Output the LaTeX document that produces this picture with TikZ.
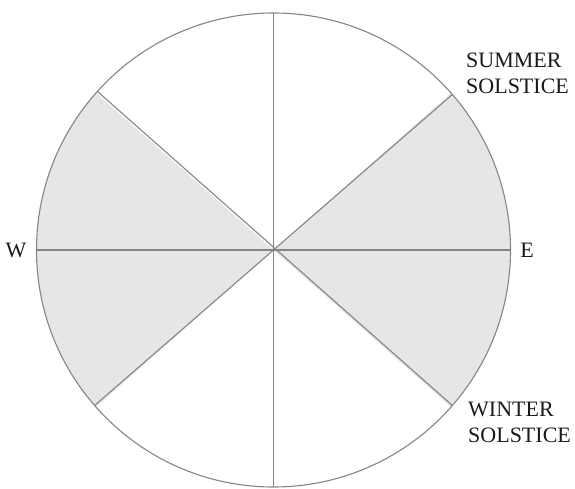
\documentclass[tikz,border=0pt]{standalone}
\usepackage{fontspec}
\setmainfont{Liberation Serif}
\definecolor{linegray}{HTML}{858585}
\definecolor{shade}{HTML}{E6E6E6}
\definecolor{labelcol}{HTML}{1A1A1A}
\begin{document}
\begin{tikzpicture}[x=1pt,y=1pt,
  rim/.style={draw=linegray, line width=1.1pt},
  divider/.style={draw=linegray, line width=1.1pt},
  sector/.style={fill=shade},
  lbl/.style={font=\fontsize{22}{26}\selectfont, text=labelcol, inner sep=0pt}]
\useasboundingbox (0,0) rectangle (575,488);
\coordinate (c) at (273.5,238);
\fill[sector] (c) -- ++(-41.5:237) arc[start angle=-41.5,end angle=41.5,radius=237] -- cycle;
\fill[sector] (c) -- ++(138.5:237) arc[start angle=138.5,end angle=221.5,radius=237] -- cycle;
\node[circle, minimum size=474pt, inner sep=0pt, outer sep=0pt, rim] (rim) at (c) {};
\draw[divider] (rim.north) -- (rim.south);
\draw[divider] (rim.west) -- (rim.east);
\draw[divider] (rim.41.5) -- (rim.221.5);
\draw[divider] (rim.138.5) -- (rim.-41.5);
\node[lbl, anchor=base west, align=left] (summer) at (466,394) {SUMMER\\SOLSTICE};
\node[lbl, anchor=base west, align=left] (winter) at (468,46) {WINTER\\SOLSTICE};
\node[lbl] (w) at (16,238) {W};
\node[lbl] (e) at (527,238) {E};
\end{tikzpicture}
\end{document}
